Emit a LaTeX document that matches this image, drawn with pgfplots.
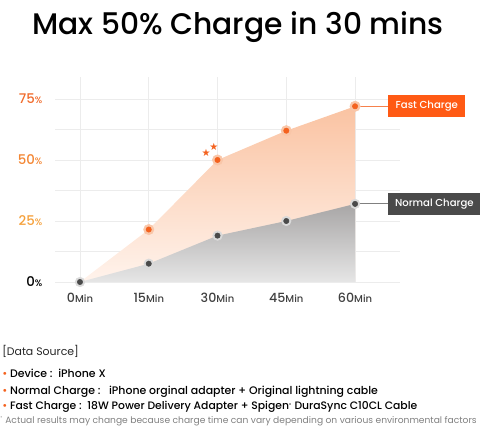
\documentclass[border=0pt]{standalone}
\usepackage{pgfplots}
\pgfplotsset{compat=1.18}
\usepackage{fontspec}
\setmainfont{Poppins}
\newfontfamily\pmed{Poppins}[UprightFont={* Medium}]
\newfontfamily\symfont{DejaVu Sans}
\definecolor{fastc}{HTML}{F4621F}
\definecolor{fastbox}{HTML}{FF5A14}
\definecolor{fasthalo}{HTML}{F9C6A8}
\definecolor{fasttop}{HTML}{FAC3A2}
\definecolor{fastbot}{HTML}{FFF3EC}
\definecolor{normc}{HTML}{4A4A4A}
\definecolor{normhalo}{HTML}{DADADA}
\definecolor{normtop}{HTML}{A8A6A6}
\definecolor{normbot}{HTML}{E6E6E6}
\definecolor{lab75}{HTML}{F06A2A}
\definecolor{lab50}{HTML}{F38633}
\definecolor{lab25}{HTML}{F5A03A}
\definecolor{gridc}{HTML}{ECECEC}
\begin{document}
\begin{tikzpicture}
\path[use as bounding box] (0,0) rectangle (360pt,321.75pt);
\node[anchor=base, inner sep=0pt, font=\pmed\fontsize{22.3}{28}\selectfont] at (178.5pt,295.5pt) {Max 50\% Charge in 30 mins};
\begin{axis}[
  at={(41.25pt,110.25pt)}, anchor=south west,
  scale only axis, width=258.75pt, height=153.75pt,
  xmin=-5.45, xmax=69.8, ymin=0, ymax=84,
  clip=false,
  axis line style={draw=none},
  tick style={draw=none},
  xtick={0,15,30,45,60},
  xticklabels={0{\fontsize{7.5}{8}\selectfont Min},15{\fontsize{7.5}{8}\selectfont Min},30{\fontsize{7.5}{8}\selectfont Min},45{\fontsize{7.5}{8}\selectfont Min},60{\fontsize{7.5}{8}\selectfont Min}},
  ytick={0,25,50,75},
  yticklabels={{\color{black}0{\fontsize{7}{8}\selectfont\%}},{\color{lab25}25{\fontsize{7}{8}\selectfont\%}},{\color{lab50}50{\fontsize{7}{8}\selectfont\%}},{\color{lab75}75{\fontsize{7}{8}\selectfont\%}}},
  minor ytick={12.5,37.5,62.5},
  grid=both,
  major grid style={gridc, line width=0.6pt},
  minor grid style={gridc, line width=0.6pt},
  xticklabel style={font=\pmed\fontsize{9.5}{10}\selectfont, color=black!75, yshift=-5pt},
  yticklabel style={font=\pmed\fontsize{10}{10}\selectfont, anchor=east, xshift=-6pt},
]
\addplot[draw=none, top color=fasttop, bottom color=fastbot] coordinates {(0,0) (15,21.5) (30,50) (45,62) (60,72)} \closedcycle;
\addplot[draw=none, top color=normtop, bottom color=normbot] coordinates {(0,0) (15,7.5) (30,19) (45,25) (60,32)} \closedcycle;
\draw[fastc!80, line width=0.8pt] (axis cs:60,72) -- (axis cs:67.2,72);
\draw[normc!70, line width=0.8pt] (axis cs:60,32) -- (axis cs:67.2,32);
\addplot[only marks, color=fasthalo, mark=*, mark size=3.9pt, mark options={draw=none, fill=fasthalo}] coordinates {(15,21.5) (30,50) (45,62) (60,72)};
\addplot[only marks, color=fastc, mark=*, mark size=2pt, mark options={draw=none, fill=fastc}] coordinates {(15,21.5) (30,50) (45,62) (60,72)};
\addplot[only marks, color=normhalo, mark=*, mark size=3.6pt, mark options={draw=none, fill=normhalo}] coordinates {(0,0) (15,7.5) (30,19) (45,25) (60,32)};
\addplot[only marks, color=normc, mark=*, mark size=2pt, mark options={draw=none, fill=normc}] coordinates {(0,0) (15,7.5) (30,19) (45,25) (60,32)};
\addplot[only marks, mark=text, text mark={\symfont\fontsize{7.5}{8}\selectfont\textcolor{fastc}{★}}] coordinates {(27.5,52.9) (29.2,55.3)};
\node[anchor=west, fill=fastbox, text=white, inner sep=0pt, minimum width=57.75pt, minimum height=16.5pt, font=\pmed\fontsize{7.6}{8}\selectfont] at (axis cs:67.2,72) {Fast Charge};
\node[anchor=west, fill=normc, text=white, inner sep=0pt, minimum width=69pt, minimum height=16.5pt, font=\pmed\fontsize{7.6}{8}\selectfont] at (axis cs:67.2,32) {Normal Charge};
\end{axis}
\node[anchor=base west, inner sep=0pt, font=\fontsize{8.2}{10}\selectfont, text=black!85] at (1.5pt,54.75pt) {[Data Source]};
\node[anchor=base west, inner sep=0pt, font=\pmed\fontsize{8.2}{10}\selectfont] at (1.5pt,38.5pt) {\textcolor{fastc}{•} Device :\ \ iPhone X};
\node[anchor=base west, inner sep=0pt, font=\pmed\fontsize{8.2}{10}\selectfont] at (1.5pt,26pt) {\textcolor{fastc}{•} Normal Charge :\ \ \ iPhone orginal adapter + Original lightning cable};
\node[anchor=base west, inner sep=0pt, font=\pmed\fontsize{8.1}{10}\selectfont] at (1.5pt,14.25pt) {\textcolor{fastc}{•} Fast Charge :\ \ 18W Power Delivery Adapter + Spigen\textsuperscript{\fontsize{3}{3}\selectfont ®} DuraSync C10CL Cable};
\node[anchor=base west, inner sep=0pt, font=\fontsize{6.85}{8}\selectfont, text=black!50] at (0pt,4.25pt) {\textsuperscript{\fontsize{3}{3}\selectfont *} Actual results may change because charge time can vary depending on various environmental factors};
\end{tikzpicture}
\end{document}
